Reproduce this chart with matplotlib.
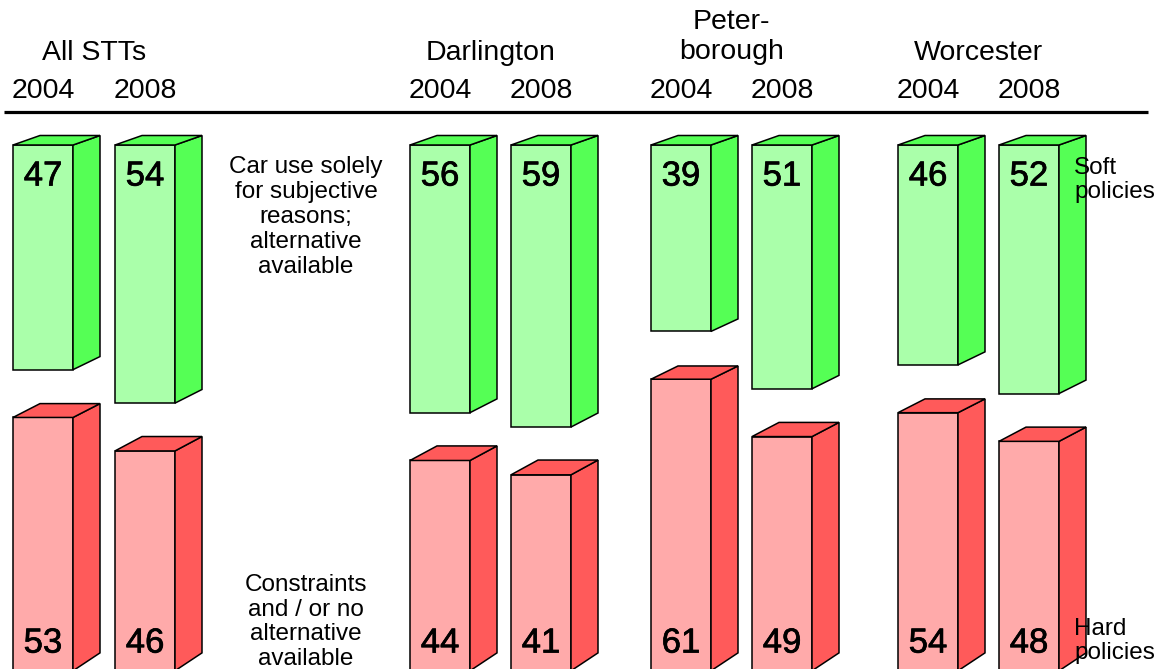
import matplotlib.pyplot as plt
import matplotlib.patheffects as pe
from matplotlib.patches import Polygon

plt.rcParams['font.family'] = ['Liberation Sans', 'DejaVu Sans']

# share of car trips, per cent
groups = ['All STTs', 'Darlington', 'Peter-\nborough', 'Worcester']
years = ['2004', '2008'] * 4
soft = [47, 54, 56, 59, 39, 51, 46, 52]   # car use for subjective reasons
hard = [53, 46, 44, 41, 61, 49, 54, 48]   # constraints / no alternative

bar_left = [13, 115, 410, 511, 651, 752, 898, 999]
bar_w = 60
depth_x = 27
px_per_unit = 4.78
base = 110          # floor of the red blocks (green ones hang from 0)

green_front, green_side = '#aaffaa', '#55ff55'
red_front, red_side = '#ffaaaa', '#ff5a5a'

fig = plt.figure(figsize=(11.62, 6.69), dpi=100)
ax = fig.add_axes([0, 0, 1, 1])
ax.set_xlim(0, 1162)
ax.set_ylim(524 / px_per_unit, -145 / px_per_unit)
ax.axis('off')


def py(p):
    # pixel row -> data units
    return (p - 145) / px_per_unit


def depth_y(u):
    # the receding edge gets a little steeper further down the page
    return -(9.5 + u * px_per_unit * 0.016) / px_per_unit


def block(x, top, bottom, front, side):
    w = bar_w
    dt, db = depth_y(top), depth_y(bottom)
    kw = dict(closed=True, edgecolor='black', linewidth=1.1, joinstyle='miter')
    ax.add_patch(Polygon([(x, top), (x + w, top), (x + w, bottom), (x, bottom)],
                         facecolor=front, **kw))
    ax.add_patch(Polygon([(x + w, top), (x + w + depth_x, top + dt),
                          (x + w + depth_x, bottom + db), (x + w, bottom)],
                         facecolor=side, **kw))
    ax.add_patch(Polygon([(x, top), (x + depth_x, top + dt),
                          (x + w + depth_x, top + dt), (x + w, top)],
                         facecolor=side, **kw))


heavy = [pe.withStroke(linewidth=0.5, foreground='black')]

for x, s, h, yr in zip(bar_left, soft, hard, years):
    block(x, 0, s, green_front, green_side)
    block(x, base - h, base, red_front, red_side)
    cx = x + bar_w / 2
    ax.text(cx, 6.5, str(s), ha='center', va='center', fontsize=25,
            path_effects=heavy)
    ax.text(cx, base - 5.8, str(h), ha='center', va='center', fontsize=25,
            path_effects=heavy)
    ax.text(cx, py(91), yr, ha='center', va='center', fontsize=20.5)

for i, g in enumerate(groups):
    cx = (bar_left[2 * i] + bar_left[2 * i + 1] + bar_w) / 2
    y = py(37) if '\n' in g else py(53)
    ax.text(cx, y, g, ha='center', va='center', fontsize=20.5, linespacing=1.22)

ax.plot([4, 1148], [py(112), py(112)], color='black', linewidth=2.3,
        solid_capstyle='butt')

side_kw = dict(fontsize=17.5, linespacing=1.17, va='center')
ax.text(306, py(217), 'Car use solely\nfor subjective\nreasons;\nalternative\navailable',
        ha='center', **side_kw)
ax.text(306, py(622), 'Constraints\nand / or no\nalternative\navailable',
        ha='center', **side_kw)
ax.text(1074, py(180), 'Soft\npolicies', ha='left', **side_kw)
ax.text(1074, py(641), 'Hard\npolicies', ha='left', **side_kw)

fig.savefig('out.png', dpi=100)
